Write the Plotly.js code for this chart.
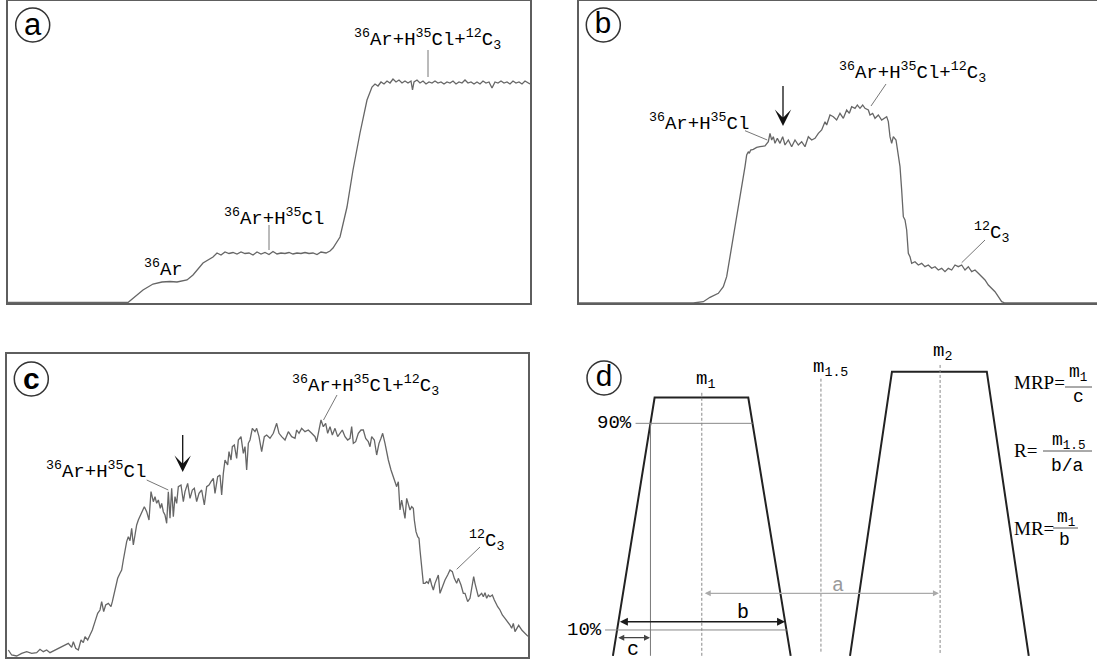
<!DOCTYPE html>
<html><head><meta charset="utf-8">
<script src="https://cdn.plot.ly/plotly-3.0.1.min.js"></script>
<style>html,body{margin:0;padding:0;background:#fff}#chart{width:1097px;height:664px}</style>
</head><body><div id="chart"></div>
<script>
// ---------- Panel a : time-resolved signal (arbitrary units) ----------
const aTime = [0,40,80,115,120,135,145,154,162,169,175,179,185,195,205,209,213,217,221,225,229,233,237,241,245,249,253,257,261,265,269,273,277,281,285,289,293,297,301,305,309,313,318,322,325,332,339,345,352,359,364,367,370,373,376,379,382,385,388,391,394,397,400,403,404.5,406,409,412,415,418,421,424,427,430,433,436,439,442,445,448,451,454,457,460,463,466,469,472,475,478,481,484,487,490,493,496,499,502,505,508,511,514,517,520,522];
const aSignal = [0.5,0.8,0.5,0.5,0.5,13,19,21,21.5,21,22,23,28,40,46,50,48,51,49.5,50.5,49,51,49.5,50,48,51,49,50.5,48.5,51.5,49,50,49.5,50.5,49,50,49.5,50.5,49.5,50,48.5,51,50,52,55,66,96,133,170,203,216,219,217,221,219,222,220,224,221,223,220,222,220,222,213,221,223,220,222,219,221,220,222,220,221,219,221,220,222,219,221,220,223,220,221,219,221,219,222,220,221,215,221,220,222,220,221,219,222,220,221,219,222,220,219];

// ---------- Panel b ----------
const bTime = [0,343,373,393,418,433,443,453,463,473,483,493,498,503,508,511,515,523,533,543,558,568,573,578,583,588,595,603,611,618,628,638,648,658,668,678,688,698,708,718,728,738,743,753,763,773,783,793,803,811,818,828,835,843,851,858,868,873,881,888,898,908,923,928,933,938,943,951,958,963,968,973,978,983,988,993,998,1008,1018,1028,1038,1048,1058,1068,1078,1088,1098,1108,1118,1128,1138,1148,1158,1168,1178,1188,1198,1208,1218,1228,1238,1248,1258,1268,1278,1554];
const bSignal = [0,0,4,17,29,49,79,139,199,259,309,369,409,444,454,449,459,461,467,469,471,484,509,489,499,479,494,479,499,474,489,469,489,474,484,469,499,489,494,509,519,544,534,564,559,549,569,554,579,569,589,584,594,584,594,584,579,564,569,554,564,549,559,544,499,479,499,489,444,409,339,259,249,219,149,139,119,124,114,119,109,114,104,109,99,104,94,104,99,114,109,114,99,109,94,99,89,79,69,54,44,34,19,4,0,0];

// ---------- Panel c ----------
const cTime = [4,14,29,44,59,74,89,99,109,119,129,144,159,174,184,194,199,206,214,222,229,234,242,249,256,264,272,279,284,290,296,304,312,316,324,332,339,344,349,354,359,364,369,374,379,384,389,394,404,412,419,426,432,439,444,449,454,460,464,469,474,479,484,489,494,499,504,509,514,522,529,534,542,549,556,562,569,576,584,592,599,606,612,619,624,632,639,644,649,654,662,666,672,676,682,689,694,702,709,714,719,724,729,736,744,749,756,764,772,
 779,789,799,809,816,824,834,844,854,864,869,876,884,894,904,914,924,929,936,942,949,956,962,969,976,984,992,999,1006,1014,1022,1029,1034,1039,1046,1054,1062,1069,1076,1084,1089,1094,1102,1109,1116,1122,1127,1134,1139,1144,1152,1159,1164,1169,1174,1179,1184,1189,1194,1199,1204,1209,1214,1219,1222,1227,1232,1236,1239,1244,1249,1254,1259,1264,1269,1274,1279,1284,1289,1294,1299,1306,1314,1322,1329,1336,1342,1349,1354,1362,1369,1374,1382,1389,1396,1400,1404,1409,1414,1419,1424,1429,1434,1439,1444,1449,1456,1462,1466,1472,1479,1486,1494,1502,1509,1514,1519,1524,1535,1545,1563];
const cSignal = [21,6,3,11,16,11,13,23,16,21,13,21,29,36,41,29,46,26,21,51,43,61,51,66,81,106,131,141,166,136,156,161,151,166,201,236,251,261,291,326,346,361,349,386,336,366,396,411,431,451,436,411,496,466,481,461,471,446,461,436,426,401,496,416,506,421,481,461,511,516,466,496,521,476,501,506,466,491,501,456,511,516,526,536,491,541,546,486,551,591,576,616,591,631,636,596,651,661,611,631,561,641,651,686,676,686,661,616,661,
 666,656,671,701,671,661,651,676,661,656,681,671,686,676,681,671,661,646,681,711,691,701,671,691,666,686,661,671,681,661,651,656,691,641,646,671,681,681,656,646,631,661,651,606,641,656,671,641,611,591,561,541,521,511,526,441,471,446,416,476,461,441,451,446,411,376,361,356,321,261,221,221,226,221,236,216,201,221,236,246,191,211,231,246,261,256,236,221,236,216,191,191,166,176,211,241,221,196,181,186,191,181,193,176,186,181,186,171,161,151,141,126,116,106,96,86,101,76,95,80,62];

// ---------- Panel d : schematic peaks (mass units, % intensity) ----------
const peak1Mass = [0.627, 0.802, 1.195, 1.373];
const peak1Pct  = [0, 100, 100, 0];
const peak2Mass = [1.622, 1.798, 2.196, 2.372];
const peak2Pct  = [0, 110, 110, 0];
const markMass  = [1, 1.5, 2];
const markTop   = [102, 108, 113];
const markBottom= [0, 1.6, 1.1];
const markLabels= ['m<sub>1</sub>', 'm<sub>1.5</sub>', 'm<sub>2</sub>'];
const line90Mass = [0.722, 1.213], line90Pct = [90, 90];
const line10Mass = [0.594, 1.356], line10Pct = [10, 10];
const foot90Mass = [0.7845, 0.7845], foot90Pct = [0, 90];
const arrowB = {from: 0.650, to: 1.3495, pct: 13.2};
const arrowC = {from: 0.643, to: 0.7826, pct: 7.0};
const arrowA = {from: 1.006, to: 1.995, pct: 24.2};

// ---------- layout helpers ----------
const W = 1097, H = 664;
const fx = x => x / W, fy = y => 1 - y / H;
const MONO = 'Liberation Mono, Courier New, monospace';
const SERIF = 'Liberation Serif, Times New Roman, serif';
const SANS = 'Liberation Sans, Arial, sans-serif';
const CURVE = '#666666', BOX = '#5e5e5e', TXT = '#000000';

const dPxPerMass = 238.3, dM1px = 701.8, dZeroPx = 655.8, dPxPerPct = 2.583;
const massAt = px => 1 + (px - dM1px) / dPxPerMass;
const pctAt = py => (dZeroPx - py) / dPxPerPct;

const baseAx = {showgrid:false, zeroline:false, showticklabels:false, ticks:'', fixedrange:true};
function boxAx(dom, rng, anchor, showline, mirror){
  return Object.assign({}, baseAx, {domain:dom, range:rng, anchor:anchor, showline:showline, mirror:mirror, linecolor:BOX, linewidth:2});
}

const layout = {
  width: W, height: H, margin:{l:0,r:0,t:0,b:0}, showlegend:false,
  paper_bgcolor:'#ffffff', plot_bgcolor:'rgba(0,0,0,0)',
  xaxis:  boxAx([fx(8), fx(530)], [0,522], 'y', true, true),
  yaxis:  boxAx([fy(303), fy(1)], [0,302], 'x', true, true),
  xaxis2: boxAx([fx(579), 1], [0,1554], 'y2', true, true),
  yaxis2: boxAx([fy(303), fy(1)], [0,906], 'x2', true, false),
  xaxis3: boxAx([fx(7), fx(528)], [0,1563], 'y3', true, true),
  yaxis3: boxAx([fy(657), fy(354)], [0,909], 'x3', true, true),
  xaxis4: Object.assign({}, baseAx, {domain:[fx(560),1], range:[massAt(560), massAt(1097)], anchor:'y4', visible:false}),
  yaxis4: Object.assign({}, baseAx, {domain:[0, fy(340)], range:[pctAt(664), pctAt(340)], anchor:'x4', visible:false}),
  shapes: [], annotations: []
};

function lab(text, x, y, size, opts){
  opts = opts || {};
  layout.annotations.push({
    text: text, xref:'paper', yref:'paper', x: fx(x), y: fy(y),
    xanchor: opts.anchor || 'left', yanchor:'middle', showarrow:false,
    font:{family: opts.family || MONO, size:size, color: opts.color || TXT, weight: opts.weight || 'normal'}
  });
}
function seg(x0,y0,x1,y1,color,width,dash){
  layout.shapes.push({type:'line', xref:'paper', yref:'paper', x0:fx(x0), y0:fy(y0), x1:fx(x1), y1:fy(y1),
    line:{color:color||'#777', width:width||1, dash:dash||'solid'}});
}
function circ(cx, cy, r, letter, family, size, weight, dy){
  layout.shapes.push({type:'circle', xref:'paper', yref:'paper', x0:fx(cx-r), x1:fx(cx+r), y0:fy(cy+r), y1:fy(cy-r),
    line:{color:'#333', width:1.5}});
  lab(letter, cx, cy + (dy||0), size, {anchor:'center', family:family, weight:weight});
}
function downArrow(x, yTail, yTip){
  layout.annotations.push({text:' ', xref:'paper', yref:'paper', x:fx(x), y:fy(yTip), axref:'pixel', ayref:'pixel',
    ax:0, ay:(yTail - yTip), showarrow:true, arrowhead:3, arrowsize:2.1, arrowwidth:1.3, arrowcolor:'#111', font:{size:1}});
}
function dArrow(a, color, width, size){
  layout.annotations.push({text:' ', xref:'x4', yref:'y4', axref:'x4', ayref:'y4', x:a.to, y:a.pct, ax:a.from, ay:a.pct,
    showarrow:true, arrowside:'end+start', arrowhead:2, startarrowhead:2, arrowsize:size, startarrowsize:size,
    arrowwidth:width, arrowcolor:color, font:{size:1}});
}

const ARHCL = '<sup>36</sup>Ar+H<sup>35</sup>Cl';
const FULL = '<sup>36</sup>Ar+H<sup>35</sup>Cl+<sup>12</sup>C<sub>3</sub>';
const C3 = '<sup>12</sup>C<sub>3</sub>';

// Panel a labels
circ(32.7, 25, 17, 'a', SANS, 31, 'normal', -1);
lab(FULL, 352, 40, 19);  seg(428, 50, 428, 77, '#777', 1);
lab(ARHCL, 222, 217, 19); seg(269, 225, 269, 250, '#777', 1);
lab('<sup>36</sup>Ar', 142, 269, 19);

// Panel b labels
circ(603.3, 25, 17, 'b', MONO, 30, 'normal', 0);
lab(ARHCL, 647, 122, 19); seg(745, 130.7, 767.3, 140, '#777', 1);
downArrow(783, 84, 126);
lab(FULL, 837, 72, 19);   seg(886, 84, 871, 106, '#777', 1);
lab(C3, 972, 233, 19);    seg(985, 240, 961.7, 262.7, '#777', 1);

// Panel c labels
circ(31.3, 379, 17, 'c', SANS, 30, 'bold', -1);
lab(ARHCL, 44, 470, 19);  seg(146.7, 480, 168.3, 490, '#777', 1);
downArrow(182.7, 433, 472);
lab(FULL, 290, 385, 19);  seg(337, 395, 323.5, 420, '#777', 1);
lab(C3, 467, 540, 19);    seg(480, 547, 456.7, 569.3, '#777', 1);

// Panel d
circ(604, 378, 17, 'd', MONO, 30, 'normal', 0);
markMass.forEach((m, i) => {
  layout.shapes.push({type:'line', xref:'x4', yref:'y4', x0:m, x1:m, y0:markBottom[i], y1:markTop[i],
    line:{color:'#888', width:1, dash:'3px,2px'}});
});
lab(markLabels[0], 694, 380, 19);
lab(markLabels[1], 811, 368, 19);
lab(markLabels[2], 931, 352, 19);
lab('90%', 634, 423, 19, {anchor:'right'});
lab('10%', 604, 630, 19, {anchor:'right'});
dArrow(arrowB, '#1a1a1a', 1.6, 1.0);
dArrow(arrowC, '#444', 1.2, 1.0);
dArrow(arrowA, '#aaaaaa', 1.2, 1.0);
lab('b', 742.5, 612, 20, {anchor:'center'});
lab('c', 633, 649, 20, {anchor:'center'});
lab('a', 838, 585, 20, {anchor:'center', color:'#9a9a9a'});
// formulas
lab('MRP=', 1012, 382, 19, {family:SERIF});
lab('m<sub>1</sub>', 1067, 373, 18); seg(1065, 387, 1092, 387, '#555', 1); lab('c', 1078, 397, 18, {anchor:'center'});
lab('R=', 1012, 450, 19, {family:SERIF});
lab('m<sub>1.5</sub>', 1050, 441, 18); seg(1043, 451, 1092, 451, '#555', 1); lab('b/a', 1067, 466, 18, {anchor:'center'});
lab('MR=', 1012, 528, 19, {family:SERIF});
lab('m<sub>1</sub>', 1055, 518, 18); seg(1053, 528, 1078, 528, '#555', 1); lab('b', 1064, 540, 18, {anchor:'center'});

const traces = [
  {x:aTime, y:aSignal, xaxis:'x', yaxis:'y', mode:'lines', line:{color:CURVE, width:1.3}, hoverinfo:'skip'},
  {x:bTime, y:bSignal, xaxis:'x2', yaxis:'y2', mode:'lines', line:{color:CURVE, width:1.3}, hoverinfo:'skip'},
  {x:cTime, y:cSignal, xaxis:'x3', yaxis:'y3', mode:'lines', line:{color:CURVE, width:1.3}, hoverinfo:'skip'},
  {x:peak1Mass, y:peak1Pct, xaxis:'x4', yaxis:'y4', mode:'lines', line:{color:'#222', width:2}, hoverinfo:'skip', cliponaxis:false},
  {x:peak2Mass, y:peak2Pct, xaxis:'x4', yaxis:'y4', mode:'lines', line:{color:'#222', width:2}, hoverinfo:'skip', cliponaxis:false},
  {x:line90Mass, y:line90Pct, xaxis:'x4', yaxis:'y4', mode:'lines', line:{color:'#888', width:1}, hoverinfo:'skip'},
  {x:line10Mass, y:line10Pct, xaxis:'x4', yaxis:'y4', mode:'lines', line:{color:'#888', width:1}, hoverinfo:'skip'},
  {x:foot90Mass, y:foot90Pct, xaxis:'x4', yaxis:'y4', mode:'lines', line:{color:'#777', width:1}, hoverinfo:'skip'}
];

Plotly.newPlot('chart', traces, layout, {staticPlot:true, displayModeBar:false});
</script></body></html>
